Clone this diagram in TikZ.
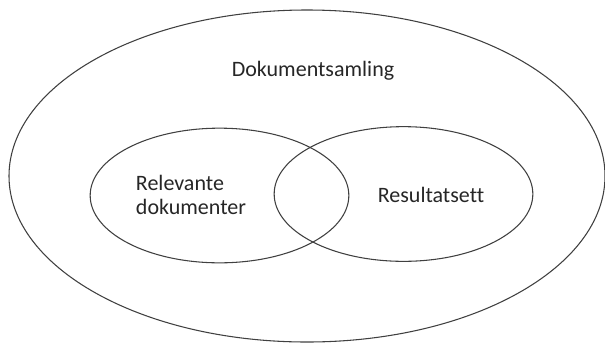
\documentclass[tikz,border=0pt]{standalone}
\usepackage{fontspec}
\setmainfont{Carlito}[Ligatures=NoCommon]
\usetikzlibrary{shapes.geometric}

\tikzset{
  mengde/.style={ellipse,draw=black!75,line width=0.8pt,inner sep=0pt},
  etikett/.style={font=\fontsize{16.5}{18}\selectfont,text=black!85,align=left,inner sep=0pt}
}

\begin{document}
\begin{tikzpicture}[x=0.75pt,y=-0.75pt]
        \useasboundingbox (0,0) rectangle (605,343);
        \node[mengde,minimum width=447pt,minimum height=249pt] (samling) at (307,176) {};
        \node[mengde,minimum width=194pt,minimum height=101pt] (relevant) at (219.5,195.5) {};
        \node[mengde,minimum width=194pt,minimum height=101pt] (resultat) at (403.5,194) {};

        \node[etikett] (samlingtekst) at (313,71) {Dokumentsamling};
        \node[etikett] (relevanttekst) at (191,195) {Relevante\\dokumenter};
        \node[etikett] (resultattekst) at (431,195) {Resultatsett};
    \end{tikzpicture}
\end{document}
